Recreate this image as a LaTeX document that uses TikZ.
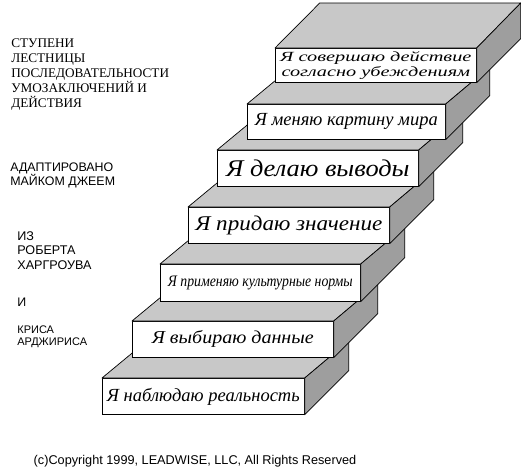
\documentclass[tikz,border=0pt]{standalone}
\usepackage{fontspec}
\setmainfont{Liberation Serif}
\newfontfamily\arialfont{Liberation Sans}
\newfontfamily\widefont[FakeStretch=1.45]{Liberation Serif}
\newfontfamily\broadfont[FakeStretch=1.1]{Liberation Serif}
\newfontfamily\narrowfont[FakeStretch=0.86]{Liberation Serif}
\definecolor{stairtop}{RGB}{200,200,200}
\definecolor{stairside}{RGB}{158,158,158}
\tikzset{
  topface/.style={fill=stairtop, draw=black, line join=round},
  sideface/.style={fill=stairside, draw=black, line join=round},
  front/.style={draw, fill=white, anchor=north west, inner sep=0pt, align=center, font=\itshape},
  caption/.style={anchor=north west, inner sep=0pt, align=left}
}
\begin{document}
\begin{tikzpicture}[x=1pt, y=-1pt, line width=0.7pt]
	\useasboundingbox (0,0) rectangle (521,475);
	% left column
	\node [caption, font=\rmfamily\fontsize{13.2}{15.2}\selectfont] (title) at (11,38) {СТУПЕНИ\\ЛЕСТНИЦЫ\\ПОСЛЕДОВАТЕЛЬНОСТИ\\УМОЗАКЛЮЧЕНИЙ И\\ДЕЙСТВИЯ};
	\node [caption, font=\arialfont\fontsize{12.4}{14}\selectfont] (adapted) at (10,162) {АДАПТИРОВАНО\\МАЙКОМ ДЖЕЕМ};
	\node [caption, font=\arialfont\fontsize{12.6}{14.5}\selectfont] (robert) at (17,231) {ИЗ\\РОБЕРТА\\ХАРГРОУВА};
	\node [caption, font=\arialfont\fontsize{12.4}{14}\selectfont] (and) at (17,298) {И};
	\node [caption, font=\arialfont\fontsize{11}{12.5}\selectfont] (chris) at (17,325) {КРИСА\\АРДЖИРИСА};
	\node [font=\arialfont\fontsize{12.7}{14}\selectfont] (copyright) at (195,461) {(c)Copyright 1999, LEADWISE, LLC, All Rights Reserved};
	% steps, bottom one first
	\node [front, minimum width=202, minimum height=36, font=\itshape\fontsize{18.5}{20}\selectfont] (step1) at (102,378) {Я наблюдаю реальность};
	\filldraw [topface] (step1.north west) -- (step1.north east) -- ++(44,-37) -- ++(-202,0) -- cycle;
	\filldraw [sideface] (step1.north east) -- ++(44,-37) -- ([shift={(44,-44)}]step1.south east) -- (step1.south east) -- cycle;
	\node [front, minimum width=201, minimum height=36, font=\broadfont\itshape\fontsize{18.2}{20}\selectfont] (step2) at (132,321) {Я выбираю данные};
	\filldraw [topface] (step2.north west) -- (step2.north east) -- ++(44,-37) -- ++(-201,0) -- cycle;
	\filldraw [sideface] (step2.north east) -- ++(44,-37) -- ([shift={(44,-44)}]step2.south east) -- (step2.south east) -- cycle;
	\node [front, minimum width=200, minimum height=37, font=\narrowfont\itshape\fontsize{16}{18}\selectfont] (step3) at (160,264) {Я применяю культурные нормы};
	\filldraw [topface] (step3.north west) -- (step3.north east) -- ++(44,-37) -- ++(-200,0) -- cycle;
	\filldraw [sideface] (step3.north east) -- ++(44,-37) -- ([shift={(44,-44)}]step3.south east) -- (step3.south east) -- cycle;
	\node [front, minimum width=201, minimum height=36, font=\broadfont\itshape\fontsize{21}{22}\selectfont] (step4) at (188,207) {Я придаю значение};
	\filldraw [topface] (step4.north west) -- (step4.north east) -- ++(44,-37) -- ++(-201,0) -- cycle;
	\filldraw [sideface] (step4.north east) -- ++(44,-37) -- ([shift={(44,-44)}]step4.south east) -- (step4.south east) -- cycle;
	\node [front, minimum width=201, minimum height=36, font=\broadfont\itshape\fontsize{24}{26}\selectfont] (step5) at (217,150) {Я делаю выводы};
	\filldraw [topface] (step5.north west) -- (step5.north east) -- ++(44,-37) -- ++(-201,0) -- cycle;
	\filldraw [sideface] (step5.north east) -- ++(44,-37) -- ([shift={(44,-44)}]step5.south east) -- (step5.south east) -- cycle;
	\node [front, minimum width=198, minimum height=35, font=\itshape\fontsize{18.5}{20}\selectfont] (step6) at (247,104) {Я меняю картину мира};
	\filldraw [topface] (step6.north west) -- (step6.north east) -- ++(44,-37) -- ++(-198,0) -- cycle;
	\filldraw [sideface] (step6.north east) -- ++(44,-37) -- ([shift={(44,-44)}]step6.south east) -- (step6.south east) -- cycle;
	\node [front, minimum width=201, minimum height=34, font=\widefont\itshape\fontsize{14}{15.5}\selectfont] (step7) at (275,48) {Я совершаю действие\\согласно убеждениям};
	\filldraw [topface] (step7.north west) -- (step7.north east) -- ++(44,-45) -- ++(-201,0) -- cycle;
	\filldraw [sideface] (step7.north east) -- ++(44,-45) -- ([shift={(44,-44)}]step7.south east) -- (step7.south east) -- cycle;
\end{tikzpicture}
\end{document}
